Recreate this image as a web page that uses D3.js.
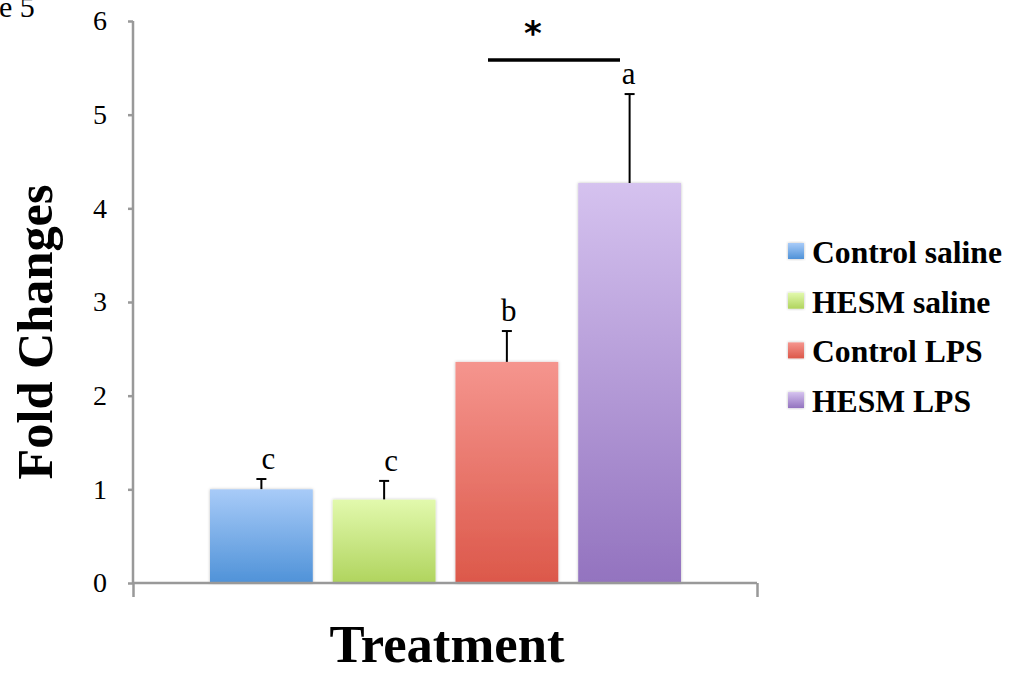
<!DOCTYPE html>
<html><head><meta charset="utf-8">
<script src="https://d3js.org/d3.v7.min.js"></script>
<style>body{margin:0;background:#fff}svg{display:block}</style>
</head><body>
<svg id="c" width="1010" height="673"></svg>
<script>
const categories = ["Control saline","HESM saline","Control LPS","HESM LPS"];
const values = [1.0, 0.89, 2.36, 4.27];
const errors = [0.11, 0.20, 0.33, 0.95];
const letters = ["c","c","b","a"];
const yTicks = [0,1,2,3,4,5,6];
const colorsTop = ["#a8cbf8","#e2f9ad","#f5958e","#d5c2ef"];
const colorsBottom = ["#4f92d8","#b0d45e","#dc584a","#9373bf"];

const svg = d3.select("#c");
const serif = "'Liberation Serif', 'DejaVu Serif', serif";
const y = d3.scaleLinear().domain([0,6]).range([583,21]);
const x = d3.scaleBand().domain(categories).range([210,681]).paddingInner(0.1626).paddingOuter(0);

const defs = svg.append("defs");
categories.forEach((c,i)=>{
  const g = defs.append("linearGradient").attr("id","g"+i).attr("x1",0).attr("y1",0).attr("x2",0).attr("y2",1);
  g.append("stop").attr("offset","0%").attr("stop-color",colorsTop[i]);
  g.append("stop").attr("offset","100%").attr("stop-color",colorsBottom[i]);
});
const f = defs.append("filter").attr("id","sh").attr("x","-10%").attr("y","-10%").attr("width","120%").attr("height","120%");
f.append("feDropShadow").attr("dx",0).attr("dy",0).attr("stdDeviation",1.5).attr("flood-color","#000").attr("flood-opacity",0.25);

// partial figure label (cut off at the left/top edge, as in the source figure)
svg.append("text").attr("x",-1).attr("y",17).attr("font-family",serif).attr("font-size",30).text("e 5");

// error bars
const eb = svg.append("g");
categories.forEach((c,i)=>{
  const cx = x(c)+x.bandwidth()/2;
  eb.append("line").attr("x1",cx).attr("x2",cx).attr("y1",y(values[i])).attr("y2",y(values[i]+errors[i])).attr("stroke","#000").attr("stroke-width",2);
  eb.append("line").attr("x1",cx-5).attr("x2",cx+5).attr("y1",y(values[i]+errors[i])).attr("y2",y(values[i]+errors[i])).attr("stroke","#000").attr("stroke-width",2);
});

// bars
svg.append("g").selectAll("rect").data(categories).join("rect")
  .attr("x",d=>x(d)).attr("width",x.bandwidth())
  .attr("y",(d,i)=>y(values[i])).attr("height",(d,i)=>y(0)-y(values[i]))
  .attr("fill",(d,i)=>"url(#g"+i+")").attr("filter","url(#sh)");

// y axis
const ya = svg.append("g").attr("transform","translate(133,0)")
  .call(d3.axisLeft(y).tickValues(yTicks).tickSize(5).tickPadding(21).tickFormat(d3.format("d")));
ya.attr("font-size",28).attr("font-family",serif);
ya.select(".domain").attr("stroke","#999").attr("stroke-width",2.5).attr("d","M0,"+y(6)+"V"+y(0));
ya.selectAll(".tick line").attr("stroke","#999").attr("stroke-width",2.5);
ya.selectAll(".tick text").attr("font-family",serif).attr("font-size",28).attr("fill","#000");

// x axis
const xs = d3.scaleLinear().domain([0,1]).range([133,757]);
const xa = svg.append("g").attr("transform","translate(0,"+y(0)+")")
  .call(d3.axisBottom(xs).tickValues([0,1]).tickSize(14).tickFormat(""));
xa.select(".domain").attr("stroke","#999").attr("stroke-width",2.5).attr("d","M133,0H757");
xa.selectAll(".tick line").attr("stroke","#999").attr("stroke-width",2.5);

// letters
svg.append("g").selectAll("text").data(categories).join("text")
  .attr("x",(d,i)=>x(d)+x.bandwidth()/2+[7,7,2,-1][i])
  .attr("y",(d,i)=>y(values[i]+errors[i])-10)
  .attr("text-anchor","middle").attr("font-family",serif).attr("font-size",31).text((d,i)=>letters[i]);

// significance bar
svg.append("line").attr("x1",488).attr("x2",620).attr("y1",60).attr("y2",60).attr("stroke","#000").attr("stroke-width",3.5);
svg.append("text").attr("x",533).attr("y",45).attr("text-anchor","middle").attr("font-family","'DejaVu Sans', sans-serif").attr("font-weight","bold").attr("font-size",34).text("*");

function fit(t, w){ const n=t.node(); const fs=+t.attr("font-size"); const L=n.getComputedTextLength(); t.attr("font-size", fs*w/L); }

// axis titles
const tt = svg.append("text").attr("x",447).attr("y",662).attr("text-anchor","middle").attr("font-family",serif).attr("font-weight","bold").attr("font-size",48).text("Treatment");
fit(tt,235);
const ft = svg.append("text").attr("transform","translate(52,332) rotate(-90)").attr("text-anchor","middle").attr("font-family",serif).attr("font-weight","bold").attr("font-size",42).text("Fold Changes");
fit(ft,295);

// legend
const lg = svg.append("g");
categories.forEach((c,i)=>{
  const base = 263 + i*49.7;
  lg.append("rect").attr("x",788).attr("y",base-20).attr("width",16).attr("height",16).attr("fill","url(#g"+i+")").attr("filter","url(#sh)");
  const t = lg.append("text").attr("x",812).attr("y",base).attr("font-family",serif).attr("font-weight","bold").attr("font-size",25).text(c);
  if(i===0) fit(t,190);
});
const lfs = lg.select("text").attr("font-size");
lg.selectAll("text").attr("font-size",lfs);
</script>
</body></html>
